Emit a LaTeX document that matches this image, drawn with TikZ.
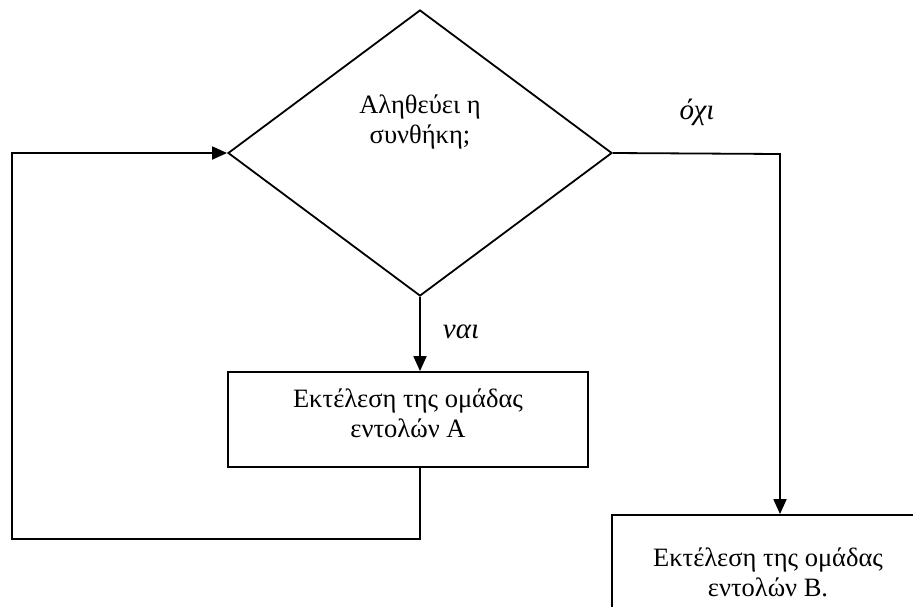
\documentclass[tikz,border=0pt]{standalone}
\usepackage{fontspec}
\setmainfont{Liberation Serif}
\usetikzlibrary{shapes.geometric,arrows.meta}

\begin{document}
\begin{tikzpicture}
    [
    x=1pt, y=-1pt, line width=1.8pt, >={Triangle[length=15pt,width=13pt]},
    font=\fontsize{26.5}{30}\selectfont,
    %Voreinstellung für Kästen und Pfeile
    box/.style={draw, rectangle, inner sep=0pt, align=center},
    flow/.style={->},
    answer/.style={font=\fontsize{29}{30}\selectfont\itshape}
    ]
    
    %Rahmen des Bildes
    \useasboundingbox (0,0) rectangle (913,606);
    \clip (0,0) rectangle (913,606);
    
    %Raute mit Bedingung
    \node[draw, diamond, inner sep=0pt, minimum width=384pt, minimum height=286pt] (cond) at (420,153) {};
    \node[align=center] (condtext) at (420,122) {Αληθεύει η\\συνθήκη;};
    
    %Kasten A
    \node[box, minimum width=360pt, minimum height=95pt] (boxA) at (408,419.5) {};
    \node[align=center] (textA) at (408,413) {Εκτέλεση της ομάδας\\εντολών Α};
    
    %Kasten B
    \node[box, minimum width=340pt, minimum height=114pt] (boxB) at (782,572) {};
    \node[align=center] (textB) at (768,572) {Εκτέλεση της ομάδας\\εντολών Β.};
    
    %Hilfspunkte
    \coordinate (turnB) at (780,154);
    \coordinate (loopbot) at (12,539);
    
    %ναι
    \draw[flow] (cond.south) -- (cond.south |- boxA.north);
    \node[answer] (yes) at (461,332) {ναι};
    
    %όχι
    \draw[flow] (cond.east) -- (turnB) -- (turnB |- boxB.north);
    \node[answer] (no) at (697,112) {όχι};
    
    %Schleife zurück
    \draw[flow] (cond.south |- boxA.south) |- (loopbot) |- (cond.west);
\end{tikzpicture}
\end{document}
